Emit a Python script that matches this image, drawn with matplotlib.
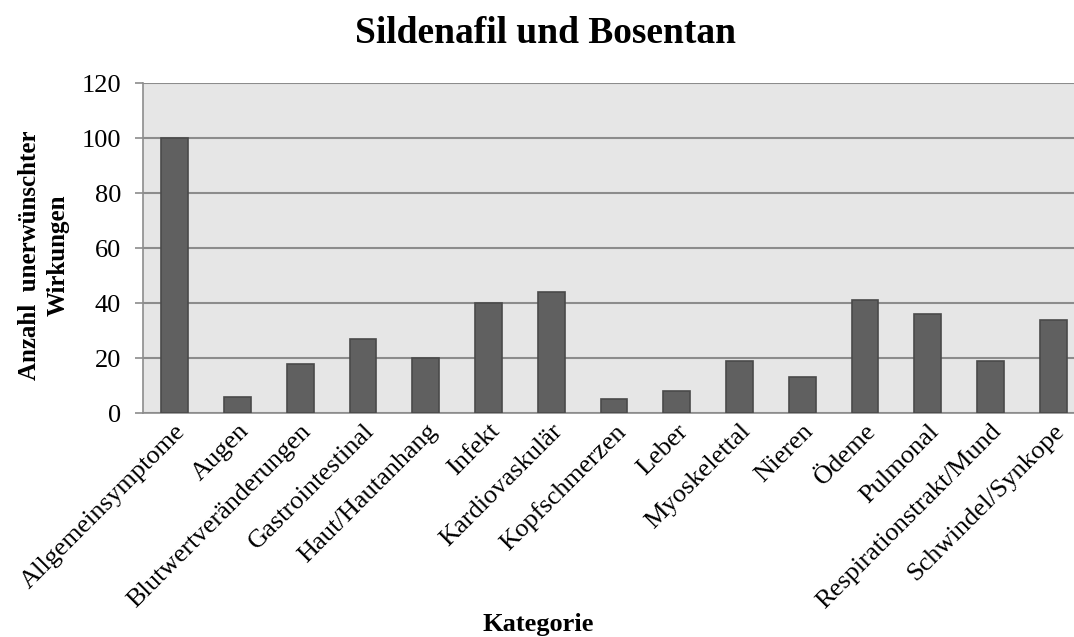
import matplotlib
matplotlib.use("Agg")
import matplotlib.pyplot as plt
import numpy as np

# values
kategorien = ["Allgemeinsymptome", "Augen", "Blutwertveränderungen", "Gastrointestinal",
              "Haut/Hautanhang", "Infekt", "Kardiovaskulär", "Kopfschmerzen", "Leber",
              "Myoskelettal", "Nieren", "Ödeme", "Pulmonal", "Respirationstrakt/Mund",
              "Schwindel/Synkope"]
anzahl = [100, 6, 18, 27, 20, 40, 44, 5, 8, 19, 13, 41, 36, 19, 34]
y_ticks = [0, 20, 40, 60, 80, 100, 120]

plt.rcParams['font.family'] = ['Liberation Serif', 'DejaVu Serif']

fig = plt.figure(figsize=(10.74, 6.37), dpi=100)
# plot area runs a little past the right edge of the picture, as in the reference
ax = fig.add_axes([0.1334, 0.3516, 0.8765, 0.5181])

x = np.arange(len(kategorien))
ax.bar(x, anzahl, width=0.425, color='#606060', edgecolor='#4a4a4a', linewidth=1.2, zorder=3)

ax.set_facecolor('#e6e6e6')
ax.set_xlim(-0.5, len(kategorien) - 0.5)
ax.set_ylim(0, 120)
ax.set_yticks(y_ticks)
ax.yaxis.grid(True, color='#8c8c8c', linewidth=1.5, zorder=1)
ax.set_axisbelow(True)

for s in ['top', 'right']:
    ax.spines[s].set_visible(False)
ax.spines['left'].set_color('#8c8c8c')
ax.spines['bottom'].set_color('#8c8c8c')
ax.spines['left'].set_linewidth(1.2)
ax.spines['bottom'].set_linewidth(1.2)

ax.tick_params(axis='y', labelsize=19, length=6, color='#8c8c8c', width=1.2, pad=10)
ax.tick_params(axis='x', length=0, pad=5)
ax.set_xticks(x)
ax.set_xticklabels(kategorien, rotation=45, ha='right', rotation_mode='anchor', fontsize=19)

ax.set_ylabel("Anzahl  unerwünschter\nWirkungen", fontsize=18, fontweight='bold', linespacing=1.3)
ax.yaxis.set_label_coords(-0.078, 0.479)
fig.text(0.501, 0.019, "Kategorie", ha='center', va='center', fontsize=19, fontweight='bold')
fig.text(0.508, 0.948, "Sildenafil und Bosentan", ha='center', va='center', fontsize=27, fontweight='bold')

fig.savefig("out.png", dpi=100)
